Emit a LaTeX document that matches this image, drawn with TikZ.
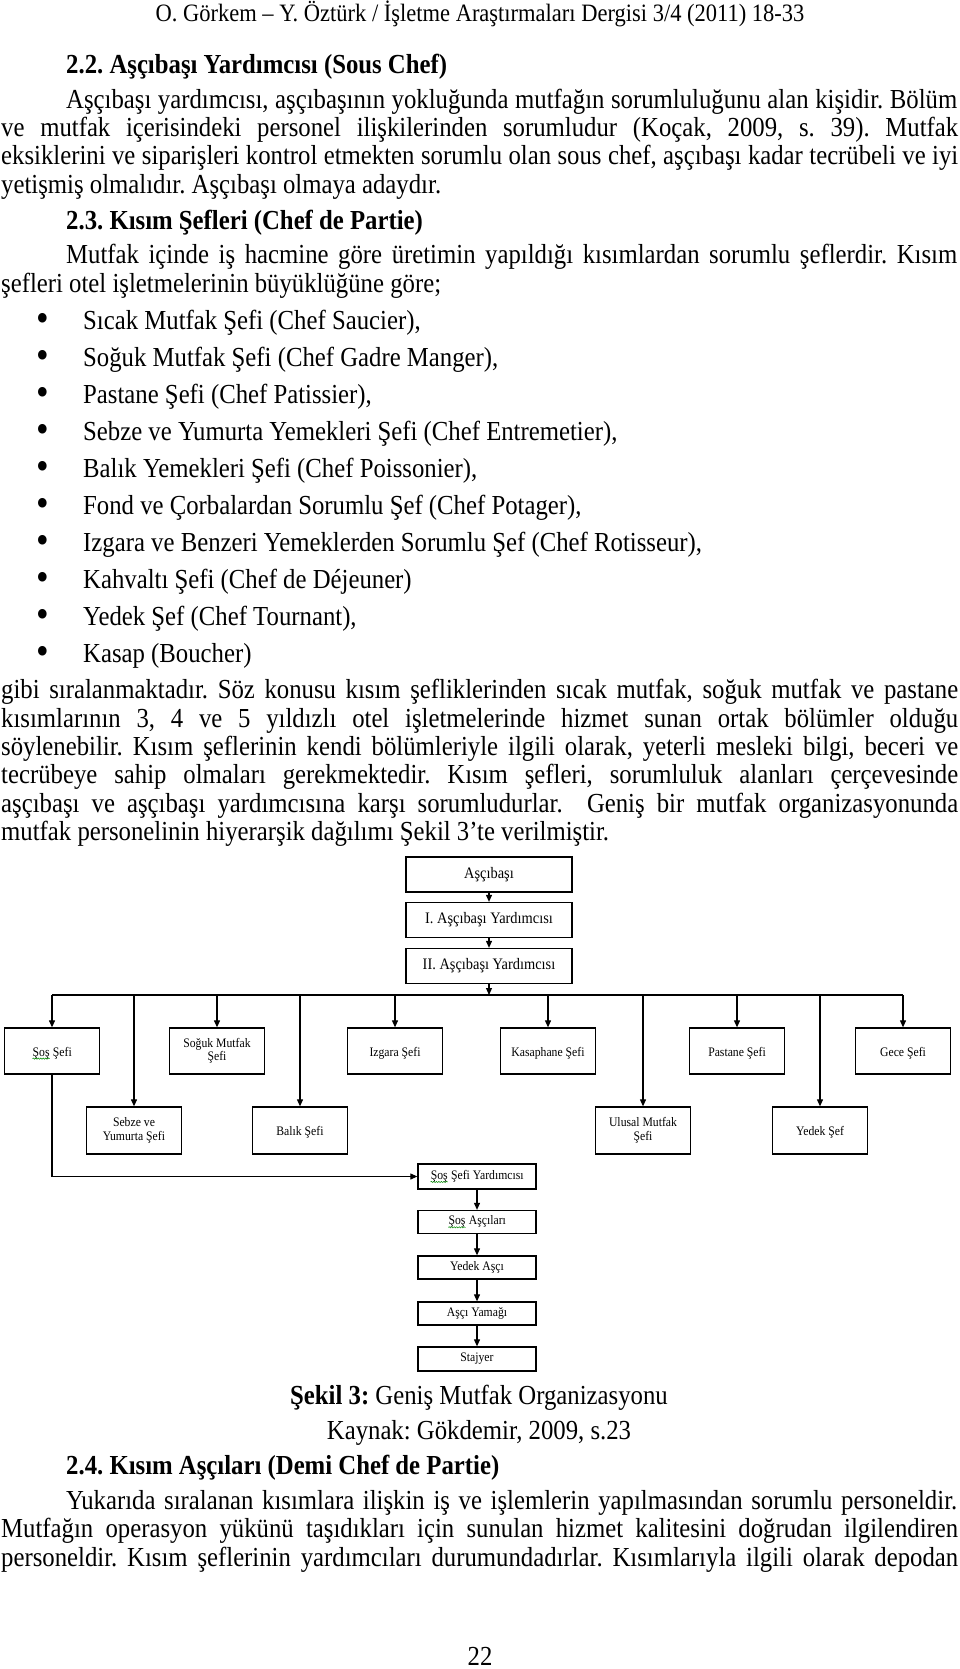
\documentclass[tikz,border=0pt]{standalone}
\usepackage{fontspec}
\setmainfont[FakeStretch=0.9]{Liberation Serif}
\usetikzlibrary{arrows.meta,decorations.pathmorphing}
\newcommand{\fullline}[1]{\makebox[957pt][s]{#1}}
\newcommand{\indline}[1]{\makebox[891pt][s]{#1}}
\newcommand{\sosword}{\tikz[baseline=(w.base),x=1pt,y=1pt]{\node[inner sep=0pt,draw=none,minimum width=0pt,minimum height=0pt,anchor=base] (w) {Şoş};
	\draw[green!55!black,line width=0.5pt,decorate,decoration={snake,amplitude=0.6pt,segment length=2.5pt}] ([yshift=-2.5pt]w.base west) -- ([yshift=-2.5pt]w.base east);}}
\frenchspacing

\begin{document}
\begin{tikzpicture}[x=1pt,y=-1pt,
	txt/.style={anchor=base west,inner sep=0pt,font=\fontsize{27.5}{30}\selectfont},
	mid/.style={anchor=base,inner sep=0pt,font=\fontsize{27.5}{30}\selectfont},
	bigbox/.style={draw,line width=1.3pt,minimum width=166pt,minimum height=35pt,inner sep=0pt,font=\fontsize{16}{18}\selectfont},
	chefbox/.style={draw,line width=1.3pt,minimum width=95pt,minimum height=46pt,inner sep=0pt,align=center,font=\fontsize{13}{13.5}\selectfont},
	crewbox/.style={draw,line width=1.3pt,minimum width=118pt,minimum height=23pt,inner sep=0pt,font=\fontsize{13}{14}\selectfont},
	arr/.style={line width=1.1pt,-{Triangle[length=7pt,width=6pt]}}]
		%%%%% START %%%%%
		
		\fill[white] (0,0) rectangle (960,1669);
		\useasboundingbox (0,0) rectangle (960,1669);
		
		\node[mid,font=\fontsize{25}{27}\selectfont] (head) at (480,22) {O. Görkem – Y. Öztürk / İşletme Araştırmaları Dergisi 3/4 (2011) 18-33};
		
		\node[txt] (sec22) at (66,74) {\textbf{2.2. Aşçıbaşı Yardımcısı (Sous Chef)}};
		\node[txt] (pa1) at (66,109) {\indline{Aşçıbaşı yardımcısı, aşçıbaşının yokluğunda mutfağın sorumluluğunu alan kişidir. Bölüm}};
		\node[txt] (pa2) at (1,137) {\fullline{ve mutfak içerisindeki personel ilişkilerinden sorumludur (Koçak, 2009, s. 39). Mutfak}};
		\node[txt] (pa3) at (1,165) {\fullline{eksiklerini ve siparişleri kontrol etmekten sorumlu olan sous chef, aşçıbaşı kadar tecrübeli ve iyi}};
		\node[txt] (pa4) at (1,194) {yetişmiş olmalıdır. Aşçıbaşı olmaya adaydır.};
		
		\node[txt] (sec23) at (66,230) {\textbf{2.3. Kısım Şefleri (Chef de Partie)}};
		\node[txt] (pb1) at (66,264) {\indline{Mutfak içinde iş hacmine göre üretimin yapıldığı kısımlardan sorumlu şeflerdir. Kısım}};
		\node[txt] (pb2) at (1,293) {şefleri otel işletmelerinin büyüklüğüne göre;};
		
		% kisim sefleri listesi
		\foreach \i/\item in {0/{Sıcak Mutfak Şefi (Chef Saucier),},
			1/{Soğuk Mutfak Şefi (Chef Gadre Manger),},
			2/{Pastane Şefi (Chef Patissier),},
			3/{Sebze ve Yumurta Yemekleri Şefi (Chef Entremetier),},
			4/{Balık Yemekleri Şefi (Chef Poissonier),},
			5/{Fond ve Çorbalardan Sorumlu Şef (Chef Potager),},
			6/{Izgara ve Benzeri Yemeklerden Sorumlu Şef (Chef Rotisseur),},
			7/{Kahvaltı Şefi (Chef de Déjeuner)},
			8/{Yedek Şef (Chef Tournant),},
			9/{Kasap (Boucher)}}{
			\node[mid,font=\fontsize{40}{40}\selectfont] (dot\i) at (43,331.5+37.05*\i) {•};
			\node[txt] (item\i) at (83,329.5+37.05*\i) {\item};
		}
		
		\node[txt] (pc1) at (1,698.6) {\fullline{gibi sıralanmaktadır. Söz konusu kısım şefliklerinden sıcak mutfak, soğuk mutfak ve pastane}};
		\node[txt] (pc2) at (1,727.3) {\fullline{kısımlarının 3, 4 ve 5 yıldızlı otel işletmelerinde hizmet sunan ortak bölümler olduğu}};
		\node[txt] (pc3) at (1,755) {\fullline{söylenebilir. Kısım şeflerinin kendi bölümleriyle ilgili olarak, yeterli mesleki bilgi, beceri ve}};
		\node[txt] (pc4) at (1,783.7) {\fullline{tecrübeye sahip olmaları gerekmektedir. Kısım şefleri, sorumluluk alanları çerçevesinde}};
		\node[txt] (pc5) at (1,812.5) {\fullline{aşçıbaşı ve aşçıbaşı yardımcısına karşı sorumludurlar.\ \ Geniş bir mutfak organizasyonunda}};
		\node[txt] (pc6) at (1,840.2) {mutfak personelinin hiyerarşik dağılımı Şekil 3’te verilmiştir.};
		
		%%%%% SEKIL 3 %%%%%
		\node[bigbox] (chef) at (489,874.5) {Aşçıbaşı};
		\node[bigbox] (sous1) at (489,920) {I. Aşçıbaşı Yardımcısı};
		\node[bigbox] (sous2) at (489,966) {II. Aşçıbaşı Yardımcısı};
		\draw[arr] (chef) -- (sous1);
		\draw[arr] (sous1) -- (sous2);
		
		\coordinate (bus) at (489,995);
		\coordinate (busL) at (52,995);
		\coordinate (busR) at (903,995);
		\draw[arr] (sous2) -- (bus);
		\draw[line width=1.1pt] (busL) -- (busR);
		
		\node[chefbox] (sos) at (52,1051) {\mbox{}\\\sosword{} Şefi};
		\node[chefbox] (soguk) at (217,1051) {Soğuk Mutfak\\Şefi};
		\node[chefbox] (izgara) at (395,1051) {\mbox{}\\Izgara Şefi};
		\node[chefbox] (kasap) at (548,1051) {\mbox{}\\Kasaphane Şefi};
		\node[chefbox] (pastane) at (737,1051) {\mbox{}\\Pastane Şefi};
		\node[chefbox] (gece) at (903,1051) {\mbox{}\\Gece Şefi};
		
		\node[chefbox,minimum height=47pt] (sebze) at (134,1130.5) {Sebze ve\\Yumurta Şefi};
		\node[chefbox,minimum height=47pt] (balik) at (300,1130.5) {\mbox{}\\Balık Şefi};
		\node[chefbox,minimum height=47pt] (ulusal) at (643,1130.5) {Ulusal Mutfak\\Şefi};
		\node[chefbox,minimum height=47pt] (yedek) at (820,1130.5) {\mbox{}\\Yedek Şef};
		
		\foreach \b in {sos,soguk,izgara,kasap,pastane,gece,sebze,balik,ulusal,yedek}
			\draw[arr] (\b.north |- bus) -- (\b.north);
		
		\node[crewbox,minimum height=25pt] (sosyrd) at (477,1176.5) {\sosword{} Şefi Yardımcısı};
		\node[crewbox] (sosasci) at (477,1222) {\sosword{} Aşçıları};
		\node[crewbox] (yedekasci) at (477,1267.5) {Yedek Aşçı};
		\node[crewbox] (yamak) at (477,1313.5) {Aşçı Yamağı};
		\node[crewbox,minimum height=24pt] (stajyer) at (477,1359) {Stajyer};
		\draw[arr] (sos.south) |- (sosyrd.west);
		\draw[arr] (sosyrd) -- (sosasci);
		\draw[arr] (sosasci) -- (yedekasci);
		\draw[arr] (yedekasci) -- (yamak);
		\draw[arr] (yamak) -- (stajyer);
		
		\node[mid] (cap) at (479,1404) {\textbf{Şekil 3:} Geniş Mutfak Organizasyonu};
		\node[mid] (src) at (479,1439) {Kaynak: Gökdemir, 2009, s.23};
		
		\node[txt] (sec24) at (66,1474.5) {\textbf{2.4. Kısım Aşçıları (Demi Chef de Partie)}};
		\node[txt] (pd1) at (66,1509.6) {\indline{Yukarıda sıralanan kısımlara ilişkin iş ve işlemlerin yapılmasından sorumlu personeldir.}};
		\node[txt] (pd2) at (1,1537.3) {\fullline{Mutfağın operasyon yükünü taşıdıkları için sunulan hizmet kalitesini doğrudan ilgilendiren}};
		\node[txt] (pd3) at (1,1566) {\fullline{personeldir. Kısım şeflerinin yardımcıları durumundadırlar. Kısımlarıyla ilgili olarak depodan}};
		
		\node[mid] (page) at (480,1665) {22};
		
		%%%%% END %%%%%
	\end{tikzpicture}
\end{document}
